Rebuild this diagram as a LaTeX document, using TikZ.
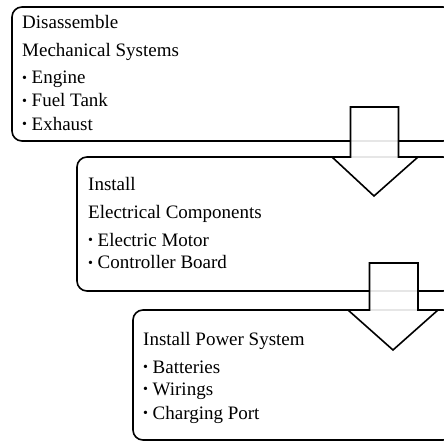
\documentclass[tikz,border=0pt]{standalone}
\usepackage{fontspec}
\setmainfont{Liberation Serif}
\newcommand{\bul}{\makebox[9.5pt][l]{\raisebox{1.2pt}{\fontsize{14}{14}\selectfont\textbullet}}}
\begin{document}
\begin{tikzpicture}[x=1pt,y=-1pt,
  stagebox/.style={draw=black,line width=1.6pt,rounded corners=10pt,fill=white},
  blockarrow/.style={draw=black,line width=1.6pt,fill=white,fill opacity=0.9,line join=miter},
  txt/.style={anchor=base west,inner sep=0pt,font=\fontsize{19}{23}\selectfont,text=black}]
\useasboundingbox (0,0) rectangle (444,442);
\clip (0,0) rectangle (444,442);
% boxes
\draw[stagebox] (12,7) rectangle (453,141);
\draw[stagebox] (77,157) rectangle (453,291);
\draw[stagebox] (133,310) rectangle (453,440);
% box 1 text
\node[txt] (t1a) at (22,28) {Disassemble};
\node[txt] (t1b) at (22,56) {Mechanical Systems};
\node[txt] (t1c) at (22,83.5) {\bul Engine};
\node[txt] (t1d) at (22,106.5) {\bul Fuel Tank};
\node[txt] (t1e) at (22,130) {\bul Exhaust};
% box 2 text
\node[txt] (t2a) at (88,190) {Install};
\node[txt] (t2b) at (88,218) {Electrical Components};
\node[txt] (t2c) at (88,246) {\bul Electric Motor};
\node[txt] (t2d) at (88,268.5) {\bul Controller Board};
% box 3 text
\node[txt] (t3a) at (143,345) {Install Power System};
\node[txt] (t3b) at (143,373) {\bul Batteries};
\node[txt] (t3c) at (143,395) {\bul Wirings};
\node[txt] (t3d) at (143,419) {\bul Charging Port};
% arrows
\draw[blockarrow] (350.5,107) -- (398.5,107) -- (398.5,157) -- (418,157) -- (374,196) -- (332,157) -- (350.5,157) -- cycle;
\draw[blockarrow] (369.5,263) -- (418,263) -- (418,310) -- (438,310) -- (393,350) -- (348,310) -- (369.5,310) -- cycle;
\end{tikzpicture}
\end{document}
